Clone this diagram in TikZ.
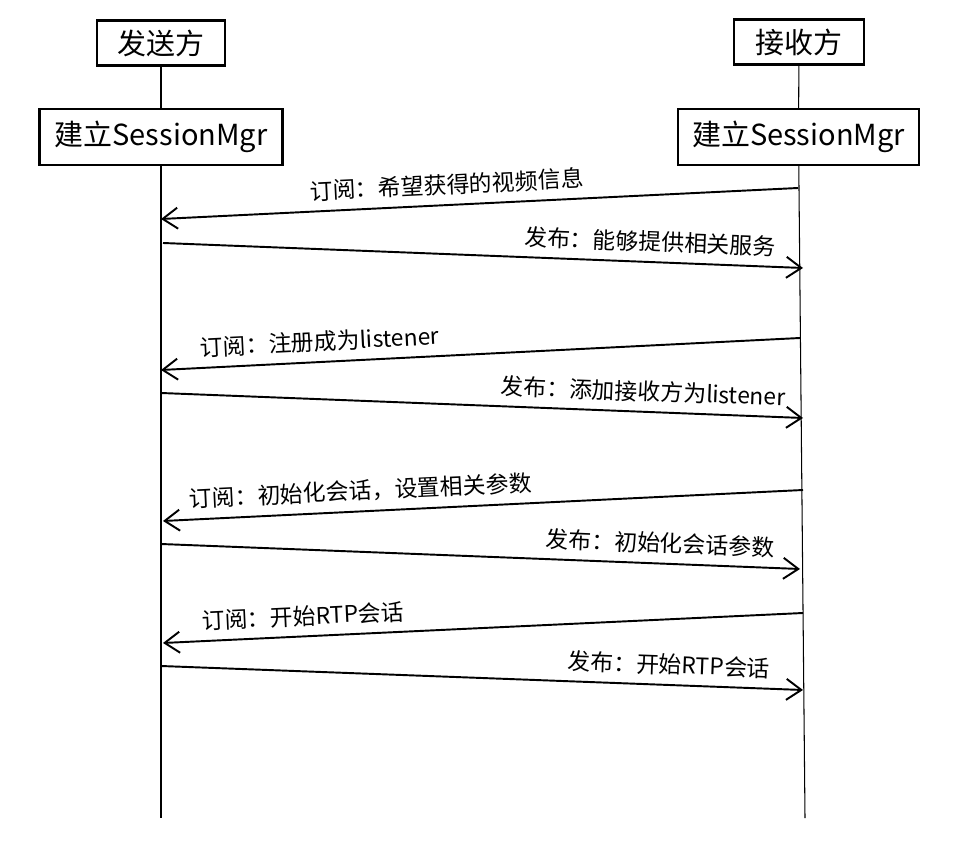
\documentclass[tikz,border=0pt]{standalone}
\usepackage{fontspec}
\setmainfont{Noto Sans CJK SC}
\usepackage{tikz}
\usetikzlibrary{arrows.meta,positioning}

\tikzset{
  party/.style={draw, line width=1.2pt, inner sep=0pt, font=\fontsize{16.5}{20}\selectfont},
  msg/.style={line width=1.1pt, -{Straight Barb[length=3mm,width=4.2mm]}},
  lbl/.style={sloped, above=4pt, inner sep=1pt, font=\fontsize{13}{15}\selectfont}
}

\begin{document}
\begin{tikzpicture}[x=0.02cm, y=-0.02cm]
    \useasboundingbox (0,0) rectangle (966,864);
    % parties
    \node[party, minimum width=2.56cm, minimum height=0.9cm] (sender) at (161,43) {发送方};
    \node[party, minimum width=2.6cm, minimum height=0.9cm] (receiver) at (799,42) {接收方};
    \node[party, minimum width=4.86cm, minimum height=1.12cm] (smL) at (161,137) {建立SessionMgr};
    \node[party, minimum width=4.82cm, minimum height=1.12cm] (smR) at (798.5,137) {建立SessionMgr};
    % lifelines
    \coordinate (endL) at (161,818);
    \coordinate (endR) at (805,818);
    \draw[line width=0.6pt] (sender) -- (smL);
    \draw[line width=0.6pt] (receiver) -- (smR);
    \draw[line width=0.6pt] (smL) -- (endL);
    \draw[line width=0.6pt] (smR) -- (endR);
    % messages
    \coordinate (r1) at (798,188); \coordinate (s1) at (161,219);
    \draw[msg] (r1) -- node[lbl, pos=0.55] {订阅：希望获得的视频信息} (s1);
    \coordinate (s2) at (163,243); \coordinate (r2) at (803,268);
    \draw[msg] (s2) -- node[lbl, pos=0.76] {发布：能够提供相关服务} (r2);
    \coordinate (r3) at (800,338); \coordinate (s3) at (161,370);
    \draw[msg] (r3) -- node[lbl, pos=0.75] {订阅：注册成为listener} (s3);
    \coordinate (s4) at (161,393); \coordinate (r4) at (803,418);
    \draw[msg] (s4) -- node[lbl, pos=0.75] {发布：添加接收方为listener} (r4);
    \coordinate (r5) at (803,490); \coordinate (s5) at (163,521);
    \draw[msg] (r5) -- node[lbl, pos=0.69] {订阅：初始化会话，设置相关参数} (s5);
    \coordinate (s6) at (161,544); \coordinate (r6) at (800,569);
    \draw[msg] (s6) -- node[lbl, pos=0.78] {发布：初始化会话参数} (r6);
    \coordinate (r7) at (803,613); \coordinate (s7) at (163,643);
    \draw[msg] (r7) -- node[lbl, pos=0.78] {订阅：开始RTP会话} (s7);
    \coordinate (s8) at (161,666); \coordinate (r8) at (803,690);
    \draw[msg] (s8) -- node[lbl, pos=0.79] {发布：开始RTP会话} (r8);
\end{tikzpicture}
\end{document}
